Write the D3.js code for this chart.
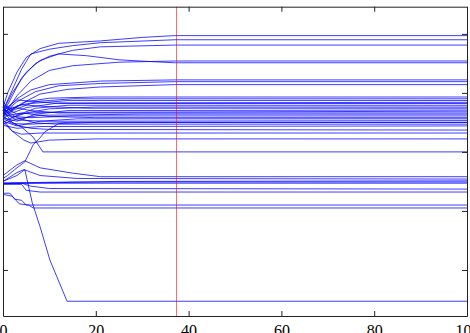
<!DOCTYPE html>
<html lang="en">
<head>
<meta charset="UTF-8">
<title>Trajectories</title>
<script src="https://d3js.org/d3.v7.min.js"></script>
<style>
    body { margin: 0; background: #fff; }
    .tick text { font-family: "Liberation Serif", "Times New Roman", serif; font-size: 16px; }
</style>
</head>
<body>
<div id="chart"></div>
<script>
    // x ticks / y ticks
    const xTicks = [0, 20, 40, 60, 80, 100];
    const yTicks = [-2, -1, 0, 1, 2];
    const markerX = 37.4;

    // rising lines that settle above the main bundle
    const upperSeries = [
        [[0, 0.75], [1, 1.0], [3, 1.35], [5, 1.6], [8, 1.75], [12, 1.84], [21, 1.88], [30, 1.94], [37, 1.97], [100, 1.97]],
        [[0, 0.7], [2, 1.05], [4, 1.4], [6, 1.66], [7, 1.68], [10, 1.74], [15, 1.8], [21, 1.85], [37, 1.9], [100, 1.9]],
        [[0, 0.65], [2, 0.95], [4, 1.25], [7, 1.5], [10, 1.62], [15, 1.72], [21, 1.78], [37, 1.81], [100, 1.81]],
        [[0, 0.7], [2, 1.0], [5, 1.35], [8, 1.55], [12, 1.66], [18, 1.63], [25, 1.56], [32, 1.53], [37, 1.51], [100, 1.51]],
        [[0, 0.6], [3, 0.95], [6, 1.2], [10, 1.38], [15, 1.46], [25, 1.52], [37, 1.54], [100, 1.54]],
        [[0, 0.68], [3, 0.9], [6, 1.05], [10, 1.14], [21, 1.2], [37, 1.22], [100, 1.22]],
        [[0, 0.65], [3, 0.85], [7, 1.02], [12, 1.12], [21, 1.16], [37, 1.19], [100, 1.19]],
        [[0, 0.6], [4, 0.82], [8, 0.98], [14, 1.06], [21, 1.1], [37, 1.14], [100, 1.14]]
    ];

    // the dense bundle
    const middleSeries = [
        [[0, 0.80], [2, 0.72], [5, 0.85], [10, 0.91], [20, 0.93], [100, 0.93]],
        [[0, 0.62], [3, 0.78], [8, 0.86], [15, 0.90], [100, 0.90]],
        [[0, 0.55], [2, 0.70], [6, 0.82], [14, 0.87], [100, 0.87]],
        [[0, 0.85], [2, 0.66], [5, 0.75], [12, 0.83], [100, 0.84]],
        [[0, 0.70], [3, 0.88], [6, 0.86], [12, 0.82], [100, 0.82]],
        [[0, 0.50], [3, 0.62], [7, 0.74], [14, 0.79], [100, 0.79]],
        [[0, 0.75], [2, 0.58], [5, 0.66], [10, 0.73], [20, 0.76], [100, 0.76]],
        [[0, 0.68], [4, 0.80], [9, 0.77], [18, 0.74], [100, 0.74]],
        [[0, 0.58], [3, 0.52], [7, 0.64], [14, 0.70], [100, 0.71]],
        [[0, 0.78], [3, 0.64], [8, 0.67], [100, 0.69]],
        [[0, 0.64], [2, 0.76], [6, 0.70], [12, 0.66], [100, 0.66]],
        [[0, 0.47], [3, 0.56], [8, 0.62], [30, 0.64], [100, 0.64]],
        [[0, 0.72], [2, 0.60], [6, 0.58], [15, 0.61], [100, 0.61]],
        [[0, 0.60], [4, 0.66], [10, 0.60], [20, 0.58], [100, 0.58]],
        [[0, 0.52], [3, 0.44], [8, 0.52], [16, 0.56], [100, 0.56]],
        [[0, 0.66], [3, 0.54], [9, 0.52], [100, 0.53]],
        [[0, 0.57], [2, 0.48], [6, 0.47], [14, 0.50], [100, 0.50]],
        [[0, 0.74], [3, 0.58], [7, 0.49], [12, 0.47], [100, 0.47]],
        [[0, 0.45], [3, 0.40], [8, 0.43], [100, 0.44]],
        [[0, 0.6], [3, 0.45], [6, 0.4], [10, 0.38], [100, 0.37]],
        [[0, 0.55], [2, 0.35], [4, 0.3], [8, 0.32], [100, 0.32]],
        [[0, 0.5], [2, 0.35], [4.5, 0.2], [6, 0.15], [10, 0.2], [20, 0.22], [100, 0.22]],
        [[0, 0.7], [2, 0.5], [4, 0.42], [6.5, 0.25], [8.6, 0], [100, 0]],
        [[0, -0.45], [1, -0.4], [2.5, -0.3], [4.7, -0.17], [6.5, 0.12], [8, 0.24], [9, 0.34], [12, 0.48], [20, 0.5], [100, 0.5]]
    ];

    // the lower group
    const lowerSeries = [
        [[0, -0.4], [3, -0.22], [4.7, -0.15], [8, -0.27], [15, -0.36], [21, -0.42], [100, -0.42]],
        [[0, -0.5], [3, -0.35], [4.5, -0.3], [8, -0.4], [16, -0.45], [100, -0.46]],
        [[0, -0.53], [5, -0.52], [15, -0.51], [100, -0.51]],
        [[0, -0.53], [20, -0.53], [100, -0.53]],
        [[0, -0.54], [5, -0.53], [25, -0.5], [100, -0.49]],
        [[0, -0.53], [4, -0.53], [6, -0.58], [10, -0.62], [100, -0.63]],
        [[0, -0.55], [4, -0.55], [5, -0.65], [8, -0.68], [100, -0.68]],
        [[0, -0.7], [1.5, -0.7], [2.5, -0.8], [4, -0.82], [5, -0.9], [100, -0.9]],
        [[0, -0.72], [2, -0.75], [3.5, -0.88], [5.5, -0.9], [6.5, -0.95], [100, -0.95]],
        [[0, -0.5], [3, -0.4], [4.7, -0.3], [6.3, -0.86], [8, -1.27], [10.1, -1.83], [13.8, -2.53], [100, -2.53]]
    ];

    const W = 470, H = 333;
    const margin = { top: 6.7, right: 3, bottom: 17, left: 3 };

    const svg = d3.select("#chart").append("svg")
        .attr("width", W)
        .attr("height", H);

    const x = d3.scaleLinear().domain([0, 100]).range([margin.left, W - margin.right]);
    const y = d3.scaleLinear().domain([-2.78, 2.46]).range([H - margin.bottom, margin.top]);

    const line = d3.line()
        .x(function (d) { return x(d[0]); })
        .y(function (d) { return y(d[1]); });

    const allSeries = upperSeries.concat(middleSeries, lowerSeries);

    svg.append("g")
        .selectAll("path")
        .data(allSeries)
        .enter()
        .append("path")
        .attr("d", line)
        .attr("fill", "none")
        .attr("stroke", "#0000ff")
        .attr("stroke-width", 0.9)
        .attr("stroke-opacity", 0.85);

    // red reference line
    svg.append("line")
        .attr("x1", x(markerX)).attr("x2", x(markerX))
        .attr("y1", y.range()[0]).attr("y2", y.range()[1])
        .attr("stroke", "#ff0000")
        .attr("stroke-width", 0.6);

    // axes, ticks pointing inward
    const bottom = svg.append("g")
        .attr("transform", "translate(0," + y.range()[0] + ")")
        .call(d3.axisBottom(x).tickValues(xTicks).tickSizeInner(-5).tickSizeOuter(0).tickPadding(9));
    svg.append("g")
        .attr("transform", "translate(0," + y.range()[1] + ")")
        .call(d3.axisTop(x).tickValues(xTicks).tickSizeInner(-5).tickSizeOuter(0).tickFormat(""));
    svg.append("g")
        .attr("transform", "translate(" + x.range()[0] + ",0)")
        .call(d3.axisLeft(y).tickValues(yTicks).tickSizeInner(-5).tickSizeOuter(0).tickPadding(9));
    svg.append("g")
        .attr("transform", "translate(" + x.range()[1] + ",0)")
        .call(d3.axisRight(y).tickValues(yTicks).tickSizeInner(-5).tickSizeOuter(0).tickFormat(""));

    svg.selectAll(".domain, .tick line").attr("stroke", "#222");
    bottom.selectAll("text").attr("fill", "#000");
</script>
</body>
</html>
